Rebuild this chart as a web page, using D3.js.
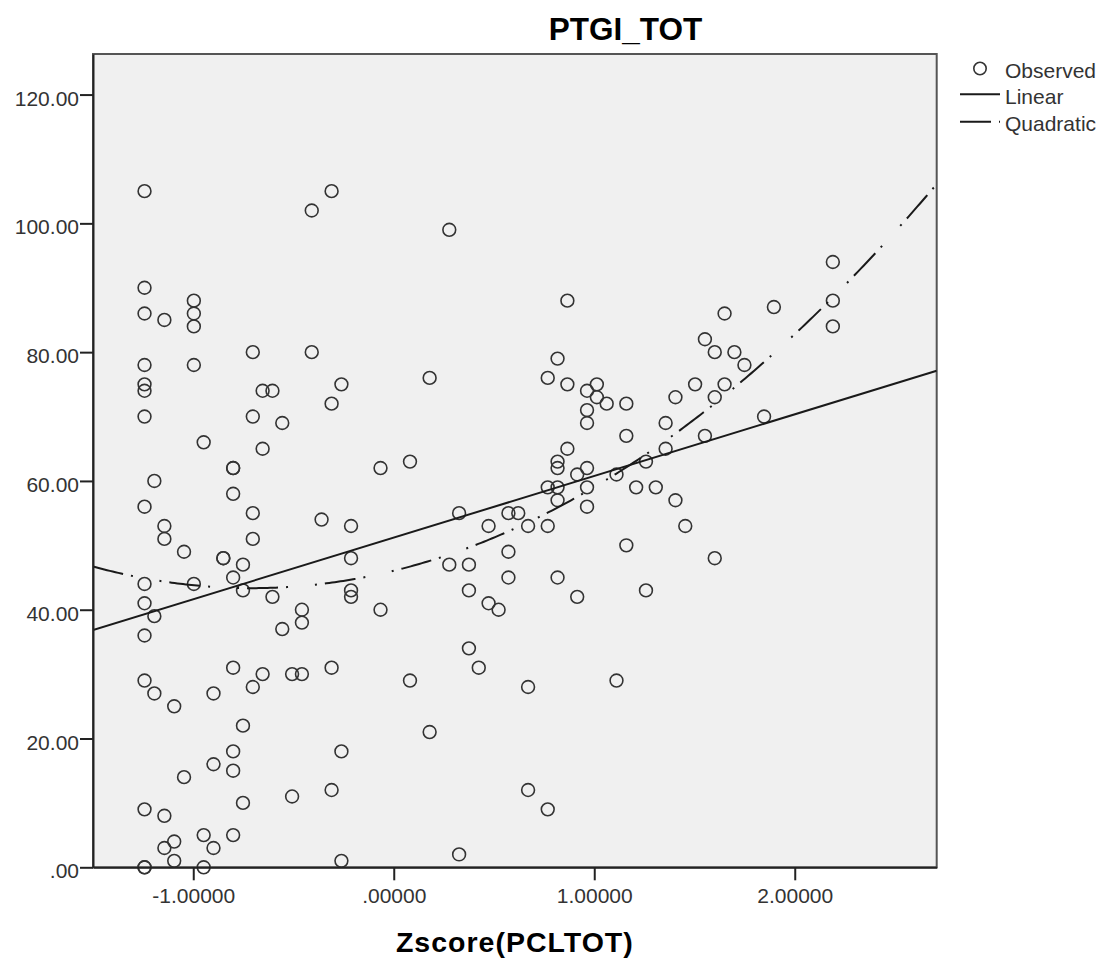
<!DOCTYPE html>
<html>
<head>
<meta charset="utf-8">
<script src="https://cdn.jsdelivr.net/npm/d3@7"></script>
<style>
body { margin: 0; background: #fff; }
text { font-family: "Liberation Sans", Arial, sans-serif; }
</style>
</head>
<body>
<script>
// Zscore(PCLTOT) values, one per column of observations
var colZ = [-1.243, -1.194, -1.144, -1.095, -1.046, -0.997, -0.948, -0.899, -0.850, -0.801,
    -0.752, -0.703, -0.654, -0.605, -0.556, -0.507, -0.458, -0.409, -0.360, -0.310,
    -0.261, -0.213, -0.066, 0.081, 0.179, 0.277, 0.326, 0.375, 0.424, 0.473,
    0.523, 0.572, 0.621, 0.670, 0.768, 0.817, 0.866, 0.915, 0.964, 1.013,
    1.062, 1.111, 1.160, 1.209, 1.258, 1.307, 1.356, 1.405, 1.454, 1.503,
    1.552, 1.601, 1.650, 1.699, 1.749, 1.847, 1.896, 2.190];

// PTGI_TOT observed at each of those z values
var colPTGI = [
    [105, 90, 86, 78, 75, 74, 70, 56, 44, 41, 36, 29, 9, 0, 0],
    [60, 39, 27],
    [85, 53, 51, 8, 3],
    [25, 4, 1],
    [49, 14],
    [88, 86, 84, 78, 44],
    [66, 5, 0],
    [27, 16, 3],
    [48, 48],
    [62, 62, 58, 45, 31, 18, 15, 5],
    [47, 43, 22, 10],
    [80, 70, 55, 51, 28],
    [74, 65, 30],
    [74, 42],
    [69, 37],
    [30, 11],
    [40, 38, 30],
    [102, 80],
    [54],
    [105, 72, 31, 12],
    [75, 18, 1],
    [53, 48, 43, 42],
    [62, 40],
    [63, 29],
    [76, 21],
    [99, 47],
    [55, 2],
    [47, 43, 34],
    [31],
    [53, 41],
    [40],
    [55, 49, 45],
    [55],
    [53, 28, 12],
    [76, 59, 53, 9],
    [79, 63, 62, 59, 57, 45],
    [88, 75, 65],
    [61, 42],
    [74, 71, 69, 62, 59, 56],
    [75, 73],
    [72],
    [61, 29],
    [72, 67, 50],
    [59],
    [63, 43],
    [59],
    [69, 65],
    [73, 57],
    [53],
    [75],
    [82, 67],
    [80, 73, 48],
    [86, 75],
    [80],
    [78],
    [70],
    [87],
    [94, 88, 84]
];

var yTicks = [0, 20, 40, 60, 80, 100, 120];
var xTicks = [-1, 0, 1, 2];
var linearCoef = [51.2, 9.57];          // b0, b1
var quadCoef = [46.05, 7.62, 5.375];    // b0, b1, b2
var legendLabels = ["Observed", "Linear", "Quadratic"];

function main() {
    var width = 1105, height = 962;
    var pLeft = 93, pRight = 936.7, pTop = 54, pBottom = 867.3;
    var quadDash = "31,8,2,27,2,8";

    var svg = d3.select("body").append("svg")
        .attr("width", width)
        .attr("height", height);

    var x = d3.scaleLinear().domain([-1.50, 2.708]).range([pLeft, pRight]);
    var y = d3.scaleLinear().domain([0, 126.3]).range([pBottom, pTop]);

    function stripZero(s) {
        return s.replace(/\u2212/g, "-").replace(/^0\./, ".").replace(/^-0\./, "-.");
    }

    // plot background + frame
    svg.append("rect")
        .attr("x", pLeft).attr("y", pTop)
        .attr("width", pRight - pLeft).attr("height", pBottom - pTop)
        .attr("fill", "#f0f0f0")
        .attr("stroke", "#555")
        .attr("stroke-width", 2);

    svg.append("defs").append("clipPath").attr("id", "plotclip")
        .append("rect")
        .attr("x", pLeft).attr("y", pTop)
        .attr("width", pRight - pLeft).attr("height", pBottom - pTop);

    // points
    var points = [];
    colZ.forEach(function(z, i) {
        colPTGI[i].forEach(function(v) { points.push({z: z, v: v}); });
    });

    svg.append("g")
        .selectAll("circle")
        .data(points)
        .enter().append("circle")
        .attr("cx", function(d) { return x(d.z); })
        .attr("cy", function(d) { return y(d.v); })
        .attr("r", 6.4)
        .attr("fill", "none")
        .attr("stroke", "#333")
        .attr("stroke-width", 1.6);

    // fit lines
    var dom = x.domain();
    var xs = d3.range(0, 301).map(function(i) {
        return dom[0] + (dom[1] - dom[0]) * i / 300;
    });

    var line = d3.line()
        .x(function(d) { return x(d[0]); })
        .y(function(d) { return y(d[1]); });

    var lines = svg.append("g").attr("clip-path", "url(#plotclip)");

    lines.append("path")
        .attr("d", line(dom.map(function(t) { return [t, linearCoef[0] + linearCoef[1] * t]; })))
        .attr("fill", "none")
        .attr("stroke", "#1a1a1a")
        .attr("stroke-width", 2);

    lines.append("path")
        .attr("d", line(xs.map(function(t) { return [t, quadCoef[0] + quadCoef[1] * t + quadCoef[2] * t * t]; })))
        .attr("fill", "none")
        .attr("stroke", "#1a1a1a")
        .attr("stroke-width", 2)
        .attr("stroke-dasharray", quadDash);

    // axes
    var yAxis = svg.append("g")
        .attr("transform", "translate(" + pLeft + ",0)")
        .call(d3.axisLeft(y).tickValues(yTicks).tickSize(13).tickSizeOuter(0).tickPadding(1)
            .tickFormat(function(d) { return stripZero(d3.format(".2f")(d)); }));

    var xAxis = svg.append("g")
        .attr("transform", "translate(0," + pBottom + ")")
        .call(d3.axisBottom(x).tickValues(xTicks).tickSize(13).tickSizeOuter(0)
            .tickFormat(function(d) { return stripZero(d3.format(".5f")(d)); }));

    [yAxis, xAxis].forEach(function(g) {
        g.select(".domain").attr("stroke", "#222").attr("stroke-width", 2);
        g.selectAll(".tick line").attr("stroke", "#222").attr("stroke-width", 2);
        g.selectAll(".tick text")
            .attr("fill", "#333")
            .style("font-size", "21px")
            .style("font-family", "'Liberation Sans', Arial, sans-serif");
    });
    yAxis.selectAll(".tick text").attr("dy", 10.5);
    xAxis.selectAll(".tick text").attr("y", 0).attr("dy", 35.7);

    // titles
    svg.append("text")
        .attr("x", 625.5).attr("y", 40)
        .attr("text-anchor", "middle")
        .style("font-size", "31.5px")
        .style("font-weight", "bold")
        .text("PTGI_TOT");

    svg.append("text")
        .attr("x", (pLeft + pRight) / 2).attr("y", 952)
        .attr("text-anchor", "middle")
        .style("font-size", "28.5px")
        .style("font-weight", "bold")
        .style("letter-spacing", "1px")
        .text("Zscore(PCLTOT)");

    // legend
    var legend = svg.append("g");
    legend.append("circle")
        .attr("cx", 980).attr("cy", 68.5).attr("r", 6.2)
        .attr("fill", "none").attr("stroke", "#333").attr("stroke-width", 1.6);
    legend.append("line")
        .attr("x1", 960).attr("x2", 1000).attr("y1", 94.3).attr("y2", 94.3)
        .attr("stroke", "#1a1a1a").attr("stroke-width", 2);
    legend.append("line")
        .attr("x1", 960).attr("x2", 1000).attr("y1", 121.7).attr("y2", 121.7)
        .attr("stroke", "#1a1a1a").attr("stroke-width", 2)
        .attr("stroke-dasharray", quadDash);

    legend.selectAll("text.lbl")
        .data(legendLabels)
        .enter().append("text")
        .attr("class", "lbl")
        .attr("x", 1005)
        .attr("y", function(d, i) { return [78, 104, 131][i]; })
        .attr("fill", "#333")
        .style("font-size", "21px")
        .text(function(d) { return d; });
}

main();
</script>
</body>
</html>
